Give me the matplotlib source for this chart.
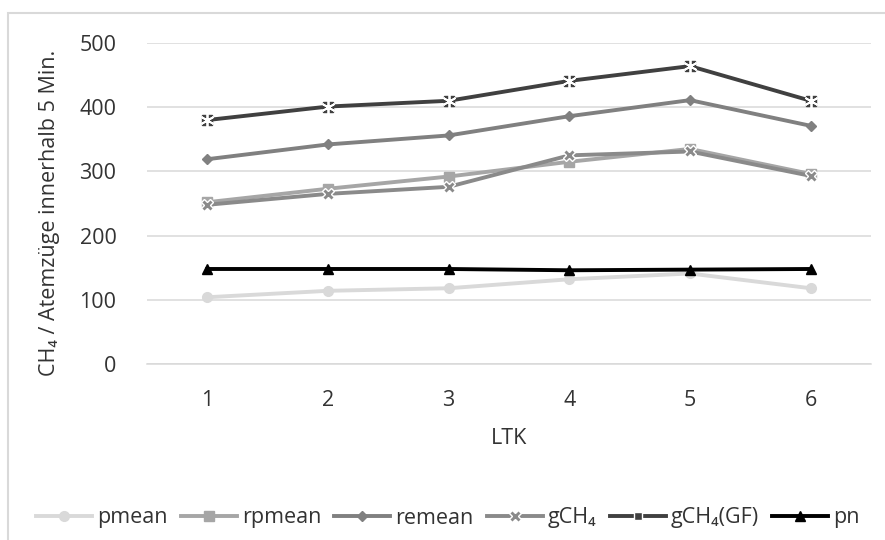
import matplotlib
matplotlib.use("Agg")
import matplotlib.pyplot as plt
from matplotlib.patches import Rectangle

plt.rcParams['font.family'] = ['Open Sans', 'DejaVu Sans']

categories = ["1", "2", "3", "4", "5", "6"]
pmean = [104, 114, 118, 132, 141, 118]
rpmean = [252, 273, 292, 315, 335, 296]
remean = [319, 342, 356, 386, 411, 371]
gch4 = [248, 265, 276, 325, 331, 293]
gch4_gf = [380, 401, 410, 441, 464, 410]
pn = [148, 148, 148, 146, 147, 148]

series = [
    ("pmean", pmean, "#d9d9d9", "o", 7, "#d9d9d9"),
    ("rpmean", rpmean, "#a6a6a6", "s", 7, "#a6a6a6"),
    ("remean", remean, "#808080", "D", 5.5, "#808080"),
    ("gCH₄", gch4, "#8a8a8a", "X", 9, "white"),
    ("gCH₄(GF)", gch4_gf, "#404040", (6, 2, 0), 10, "white"),
    ("pn", pn, "#000000", "^", 7, "#000000"),
]

TEXT = "#333333"
FS = 15.5

fig = plt.figure(figsize=(8.85, 5.4), dpi=100)
ax = fig.add_axes([147 / 885, 1 - 364 / 540, (871 - 147) / 885, (364 - 43) / 540])

# chart frame
fig.patches.append(Rectangle((8 / 885, -0.1), 1.2, (540 - 13) / 540 + 0.1,
                             transform=fig.transFigure, fill=False,
                             edgecolor="#d9d9d9", linewidth=1.5))

x = list(range(len(categories)))
for name, vals, color, marker, ms, mec in series:
    if marker == (6, 2, 0):
        ax.plot(x, vals, color=color, lw=2.8, marker="s", ms=7,
                markerfacecolor=color, markeredgecolor=color, zorder=3)
        ax.plot(x, vals, ls="none", marker=marker, ms=ms, mew=1.3,
                markeredgecolor="white", zorder=4)
        ax.plot([], [], color=color, lw=2.8, marker="s", ms=6,
                markerfacecolor=color, markeredgecolor="white", label=name)
    else:
        ax.plot(x, vals, color=color, lw=2.8, marker=marker, ms=ms,
                markerfacecolor=color, markeredgecolor=mec, mew=1.0,
                label=name, zorder=3)

ax.set_xlim(-0.5, len(categories) - 0.5)
ax.set_ylim(0, 500)
ax.set_yticks([0, 100, 200, 300, 400, 500])
ax.set_xticks(x)
ax.set_xticklabels(categories)
ax.grid(axis="y", color="#d9d9d9", lw=1.1)
ax.set_axisbelow(True)
for s in ["top", "right", "left"]:
    ax.spines[s].set_visible(False)
ax.spines["bottom"].set_color("#d9d9d9")
ax.spines["bottom"].set_linewidth(1.1)
ax.tick_params(axis="both", length=0, labelsize=FS, colors=TEXT)
ax.tick_params(axis="y", pad=22)
ax.tick_params(axis="x", pad=19)

ax.set_ylabel("CH₄ / Atemzüge innerhalb 5 Min.", fontsize=FS, color=TEXT)
ax.yaxis.set_label_coords((60 - 147) / 724, (364 - 213) / 321)
ax.set_xlabel("LTK", fontsize=FS, color=TEXT, labelpad=12)

fig.legend(loc="center", bbox_to_anchor=(0.506, 1 - 518 / 540), ncol=6,
           frameon=False, fontsize=FS, handlelength=2.6, handletextpad=0.25,
           columnspacing=0.6, labelcolor=TEXT)

fig.savefig("out.png", dpi=100, facecolor="white")
